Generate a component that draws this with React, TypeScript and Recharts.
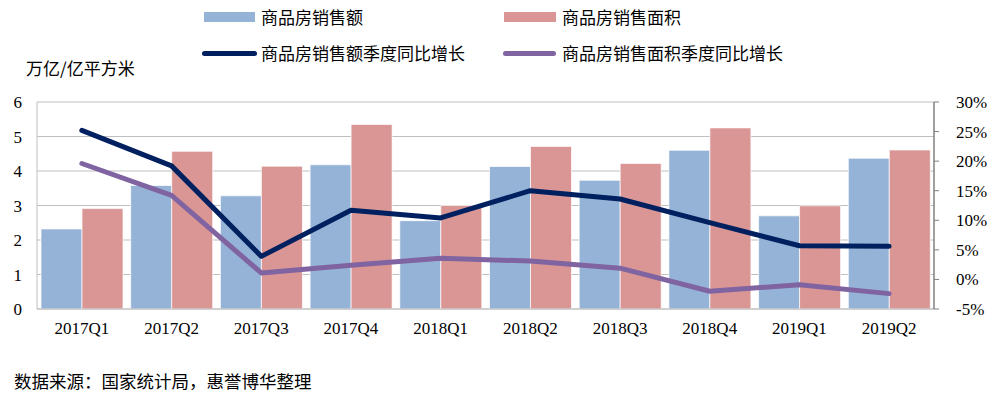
import React from 'react';
import { ComposedChart, Bar, Line, XAxis, YAxis, CartesianGrid } from 'recharts';

const categories = ['2017Q1', '2017Q2', '2017Q3', '2017Q4', '2018Q1', '2018Q2', '2018Q3', '2018Q4', '2019Q1', '2019Q2'];
const salesAmount = [2.32, 3.58, 3.28, 4.18, 2.56, 4.13, 3.73, 4.6, 2.7, 4.37];
const salesArea = [2.91, 4.57, 4.14, 5.35, 3.0, 4.71, 4.22, 5.25, 2.99, 4.61];
const amountYoY = [25.2, 19.2, 3.9, 11.7, 10.4, 15.0, 13.6, 9.6, 5.7, 5.6];
const areaYoY = [19.6, 14.2, 1.1, 2.4, 3.6, 3.1, 1.9, -2.0, -0.9, -2.4];
const leftTicks = [0, 1, 2, 3, 4, 5, 6];
const rightTicks = [-5, 0, 5, 10, 15, 20, 25, 30];

const names = {
  amount: '商品房销售额',
  area: '商品房销售面积',
  amountYoY: '商品房销售额季度同比增长',
  areaYoY: '商品房销售面积季度同比增长',
};

const colors = {
  amount: '#95B3D7',
  area: '#D99694',
  amountYoY: '#002060',
  areaYoY: '#8064A2',
};

const data = categories.map((c, i) => ({
  name: c,
  amount: salesAmount[i],
  area: salesArea[i],
  amountYoY: amountYoY[i],
  areaYoY: areaYoY[i],
}));

const serif = "'Liberation Serif', 'Times New Roman', serif";
const cjk = "'Noto Sans CJK SC', sans-serif";

const XTick = (props: any) => {
  const { x, y, payload } = props;
  return (
    <text x={x} y={y + 25} textAnchor="middle" fontFamily={serif} fontSize={17} fill="#000">
      {payload.value}
    </text>
  );
};

const LeftTick = (props: any) => {
  const { x, y, payload } = props;
  return (
    <text x={x - 15} y={y + 6} textAnchor="end" fontFamily={serif} fontSize={17} fill="#000">
      {payload.value}
    </text>
  );
};

const RightTick = (props: any) => {
  const { x, y, payload } = props;
  return (
    <text x={x + 17} y={y + 6} textAnchor="start" fontFamily={serif} fontSize={17} fill="#000">
      {`${payload.value}%`}
    </text>
  );
};

const LegendBlock = () => {
  const textStyle: React.CSSProperties = {
    position: 'absolute',
    fontFamily: cjk,
    fontSize: 17,
    lineHeight: '20px',
    color: '#000',
    whiteSpace: 'nowrap',
  };
  return (
    <>
      <div style={{ position: 'absolute', left: 204, top: 12, width: 51, height: 10, background: colors.amount }} />
      <div style={{ ...textStyle, left: 261, top: 7 }}>{names.amount}</div>
      <div style={{ position: 'absolute', left: 504, top: 12, width: 52, height: 10, background: colors.area }} />
      <div style={{ ...textStyle, left: 562, top: 7 }}>{names.area}</div>
      <div style={{ position: 'absolute', left: 202, top: 50.5, width: 55, height: 5, borderRadius: 3, background: colors.amountYoY }} />
      <div style={{ ...textStyle, left: 261, top: 43 }}>{names.amountYoY}</div>
      <div style={{ position: 'absolute', left: 503, top: 50.5, width: 53, height: 5, borderRadius: 3, background: colors.areaYoY }} />
      <div style={{ ...textStyle, left: 562, top: 43 }}>{names.areaYoY}</div>
    </>
  );
};

export default function App() {
  return (
    <div style={{ position: 'absolute', left: 0, top: 0, width: 999, height: 399, background: '#fff' }}>
      <ComposedChart
        width={999}
        height={399}
        data={data}
        margin={{ top: 102, right: 0, bottom: 60, left: 0 }}
        barCategoryGap={4}
        barGap={0}
      >
        <CartesianGrid yAxisId="left" vertical={false} stroke="#BFBFBF" strokeWidth={1} />
        <XAxis
          dataKey="name"
          height={30}
          tickLine={false}
          axisLine={{ stroke: '#BFBFBF' }}
          tickSize={0}
          tickMargin={0}
          tick={<XTick />}
          interval={0}
        />
        <YAxis
          yAxisId="left"
          orientation="left"
          width={37}
          domain={[0, 6]}
          ticks={leftTicks}
          interval={0}
          tickLine={false}
          tickSize={0}
          tickMargin={0}
          axisLine={{ stroke: '#BFBFBF' }}
          tick={<LeftTick />}
          allowDataOverflow
        />
        <YAxis
          yAxisId="right"
          orientation="right"
          width={65}
          domain={[-5, 30]}
          ticks={rightTicks}
          interval={0}
          tickSize={5}
          tickMargin={0}
          tickLine={{ stroke: '#808080' }}
          axisLine={{ stroke: '#808080', strokeWidth: 1.5 }}
          tick={<RightTick />}
          allowDataOverflow
        />
        <Bar yAxisId="left" dataKey="amount" name={names.amount} fill={colors.amount} stroke="#ffffff" strokeWidth={0.7} isAnimationActive={false} />
        <Bar yAxisId="left" dataKey="area" name={names.area} fill={colors.area} stroke="#ffffff" strokeWidth={0.7} isAnimationActive={false} />
        <Line yAxisId="right" dataKey="amountYoY" name={names.amountYoY} stroke={colors.amountYoY} strokeWidth={5} dot={false} strokeLinecap="round" strokeLinejoin="round" isAnimationActive={false} />
        <Line yAxisId="right" dataKey="areaYoY" name={names.areaYoY} stroke={colors.areaYoY} strokeWidth={5} dot={false} strokeLinecap="round" strokeLinejoin="round" isAnimationActive={false} />
      </ComposedChart>
      <LegendBlock />
      <div style={{ position: 'absolute', left: 26, top: 58, fontFamily: cjk, fontSize: 17, lineHeight: '20px', whiteSpace: 'nowrap', color: '#000' }}>
        万亿/亿平方米
      </div>
      <div style={{ position: 'absolute', left: 14, top: 370, fontFamily: cjk, fontSize: 17.5, lineHeight: '22px', whiteSpace: 'nowrap', color: '#000' }}>
        数据来源：国家统计局，惠誉博华整理
      </div>
    </div>
  );
}
